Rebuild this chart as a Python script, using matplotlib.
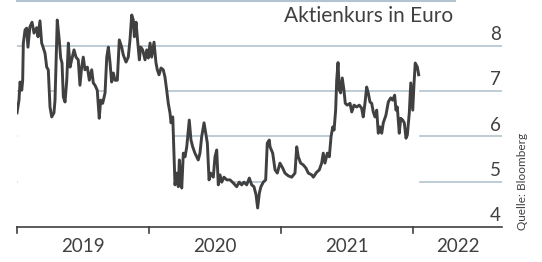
import matplotlib
matplotlib.use("Agg")
import matplotlib.pyplot as plt
import numpy as np

# years since 1 Jan 2019
t = [0.000, 0.015, 0.023, 0.036, 0.043, 0.048, 0.061, 0.073, 0.083, 0.098,
     0.114, 0.129, 0.149, 0.159, 0.174, 0.187, 0.212, 0.225, 0.237, 0.250,
     0.263, 0.280, 0.288, 0.305, 0.320, 0.331, 0.341, 0.351, 0.364, 0.377,
     0.389, 0.402, 0.414, 0.432, 0.447, 0.464, 0.477, 0.490, 0.502, 0.515,
     0.533, 0.548, 0.566, 0.578, 0.591, 0.608, 0.623, 0.634, 0.649, 0.667,
     0.680, 0.692, 0.705, 0.717, 0.730, 0.742, 0.760, 0.775, 0.793, 0.805,
     0.826, 0.843, 0.856, 0.869, 0.881, 0.889, 0.902, 0.911, 0.927, 0.937,
     0.952, 0.970, 0.983, 0.995, 1.008, 1.020, 1.038, 1.053, 1.063, 1.076,
     1.091, 1.108, 1.121, 1.134, 1.146, 1.159, 1.167, 1.180, 1.189, 1.197,
     1.210, 1.222, 1.230, 1.240, 1.248, 1.260, 1.273, 1.286, 1.305, 1.318,
     1.331, 1.348, 1.373, 1.386, 1.399, 1.417, 1.430, 1.442, 1.455, 1.467,
     1.487, 1.500, 1.513, 1.525, 1.538, 1.551, 1.568, 1.589, 1.614, 1.639,
     1.664, 1.684, 1.702, 1.720, 1.740, 1.760, 1.778, 1.795, 1.811, 1.823,
     1.836, 1.848, 1.866, 1.884, 1.896, 1.911, 1.917, 1.937, 1.955, 1.972,
     1.992, 2.013, 2.030, 2.055, 2.081, 2.106, 2.119, 2.131, 2.149, 2.169,
     2.189, 2.207, 2.233, 2.245, 2.270, 2.290, 2.308, 2.320, 2.333, 2.351,
     2.366, 2.379, 2.392, 2.402, 2.414, 2.422, 2.432, 2.442, 2.452, 2.464,
     2.477, 2.487, 2.502, 2.523, 2.536, 2.553, 2.573, 2.593, 2.611, 2.623,
     2.636, 2.649, 2.661, 2.674, 2.687, 2.699, 2.712, 2.725, 2.737, 2.750,
     2.763, 2.775, 2.795, 2.813, 2.831, 2.846, 2.861, 2.871, 2.881, 2.896,
     2.907, 2.922, 2.934, 2.947, 2.957, 2.972, 2.983, 2.998, 3.008, 3.017,
     3.033, 3.043]

kurs = [6.52, 6.80, 7.20, 7.02, 7.24, 8.06, 8.35, 8.39, 7.97, 8.42,
        8.52, 8.28, 8.40, 8.20, 8.55, 8.06, 7.84, 7.53, 7.47, 6.65,
        6.43, 6.52, 6.80, 8.57, 8.13, 7.73, 7.62, 6.87, 6.76, 7.24,
        8.06, 7.53, 7.69, 7.91, 7.75, 7.69, 7.13, 7.53, 7.75, 7.47,
        7.53, 7.24, 7.47, 7.18, 7.13, 7.02, 6.40, 6.80, 6.73, 6.96,
        7.75, 7.97, 7.62, 7.20, 7.40, 7.24, 7.24, 8.13, 7.97, 7.80,
        7.64, 7.75, 8.13, 8.68, 8.57, 8.20, 8.52, 8.20, 7.69, 7.97,
        7.91, 7.69, 7.91, 7.73, 8.06, 7.75, 8.08, 7.62, 7.47, 7.36,
        7.51, 7.47, 7.31, 7.02, 6.73, 6.52, 6.30, 6.43, 5.63, 4.93,
        5.19, 4.89, 5.48, 5.10, 4.86, 5.63, 5.55, 5.77, 6.36, 5.92,
        5.77, 5.63, 5.48, 5.63, 5.99, 6.30, 6.07, 5.85, 5.04, 5.19,
        5.10, 5.55, 5.70, 4.93, 5.15, 4.99, 5.10, 5.04, 5.04, 4.97,
        4.89, 4.99, 4.93, 4.99, 4.93, 5.08, 4.93, 4.89, 4.71, 4.42,
        4.75, 4.89, 4.99, 5.04, 5.85, 5.92, 5.77, 5.63, 5.26, 5.19,
        5.41, 5.30, 5.19, 5.13, 5.10, 5.19, 5.77, 5.55, 5.41, 5.37,
        5.30, 5.19, 5.15, 5.10, 5.21, 5.26, 5.41, 5.63, 5.41, 5.63,
        5.55, 5.99, 6.21, 6.14, 6.58, 7.24, 7.63, 7.02, 6.96, 7.29,
        7.02, 6.73, 6.69, 6.73, 6.54, 6.69, 6.65, 6.69, 6.62, 6.43,
        6.73, 7.09, 6.96, 6.76, 6.73, 6.54, 6.43, 6.58, 6.07, 6.21,
        6.07, 6.30, 6.47, 6.76, 6.85, 6.80, 6.91, 6.58, 6.65, 6.07,
        6.40, 6.36, 6.30, 5.96, 6.03, 6.52, 7.18, 6.58, 7.18, 7.62,
        7.53, 7.36]

years = [2019, 2020, 2021, 2022]
y_ticks = [4, 5, 6, 7, 8]

grid_col = '#b3c3cf'
line_col = '#404040'
text_col = '#404040'
plt.rcParams['font.family'] = ['Lato', 'DejaVu Sans']

x = 2019 + np.array(t)
x_end = 2019 + 485 / 132

fig = plt.figure(figsize=(5.42, 2.62), dpi=100)
ax = fig.add_axes([17 / 542, 35 / 262, 485 / 542, 226.5 / 262])
ax.set_xlim(2019, x_end)
ax.set_ylim(4, 9)
ax.axis('off')

# gridlines, hidden below the curve by a white fill
for v in y_ticks[1:]:
    ax.axhline(v, color=grid_col, lw=1.2, zorder=1)
for v in y_ticks:
    ax.text(x_end - 0.01, v + 0.06, str(v), ha='right', va='bottom',
            fontsize=13.5, color=text_col, zorder=5)
ax.axhline(9, xmin=0, xmax=438 / 485, color=grid_col, lw=1.5, zorder=1, clip_on=False)

ax.fill_between(x, kurs, 4, color='white', lw=0, zorder=2)
ax.plot(x, kurs, color=line_col, lw=2.1, zorder=3)

# x axis
ax.axhline(4, color=line_col, lw=1.2, zorder=4, clip_on=False)
for yr in years:
    ax.plot([yr, yr], [4, 3.86], color=line_col, lw=1.2, clip_on=False, zorder=4)
for yr in years:
    mid = (yr + min(yr + 1, x_end)) / 2
    ax.text(mid, 3.57, str(yr), ha='center', va='center', fontsize=13.5,
            color=text_col, clip_on=False)

ax.text(2019 + 436 / 132, 8.66, 'Aktienkurs in Euro', ha='right', va='center',
        fontsize=15, color=text_col, zorder=5)

fig.text(523 / 542, 32 / 262, 'Quelle: Bloomberg', rotation=90, ha='center',
         va='bottom', fontsize=8.5, color=text_col)

fig.savefig('out.png', dpi=100)
